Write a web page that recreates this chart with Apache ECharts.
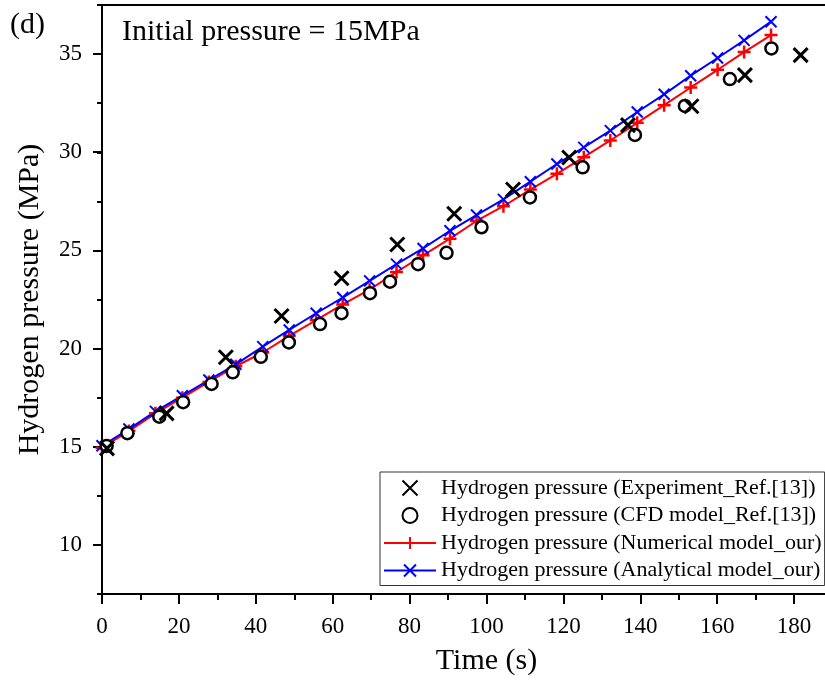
<!DOCTYPE html>
<html>
<head>
<meta charset="utf-8">
<script src="https://cdn.jsdelivr.net/npm/echarts@6/dist/echarts.min.js"></script>
<style>
  html, body { margin: 0; padding: 0; background: #fff; }
  #chart { width: 825px; height: 684px; }
</style>
</head>
<body>
<div id="chart"></div>
<script>
// measured data (time in s, pressure in MPa)
const expTime = [1.3, 16.8, 32.2, 46.7, 62.3, 76.8, 91.6, 106.9, 121.5, 136.8, 153.3, 167.2, 181.7]
const expPressure = [14.92, 16.7, 19.56, 21.66, 23.58, 25.3, 26.87, 28.1, 29.73, 31.38, 32.34, 33.93, 34.95]

const cfdTime = [1.2, 6.6, 14.9, 21.1, 28.5, 34.0, 41.3, 48.6, 56.7, 62.3, 69.7, 74.9, 82.2, 89.6, 98.7, 111.3, 125.0, 138.6, 151.6, 163.3, 174.1]
const cfdPressure = [15.04, 15.69, 16.53, 17.27, 18.2, 18.79, 19.58, 20.31, 21.25, 21.8, 22.82, 23.41, 24.3, 24.88, 26.18, 27.7, 29.23, 30.88, 32.36, 33.73, 35.29]

const modelTime = [0, 7, 13.9, 20.9, 27.8, 34.8, 41.8, 48.7, 55.7, 62.6, 69.6, 76.6, 83.5, 90.5, 97.4, 104.4, 111.4, 118.3, 125.3, 132.2, 139.2, 146.2, 153.1, 160.1, 167, 174]
const numericalPressure = [14.95, 15.8, 16.7, 17.5, 18.3, 19.1, 19.8, 20.65, 21.45, 22.25, 23.0, 23.9, 24.75, 25.6, 26.5, 27.25, 28.1, 28.9, 29.75, 30.6, 31.5, 32.4, 33.3, 34.2, 35.1, 35.97]
const analyticalPressure = [15.05, 15.9, 16.8, 17.6, 18.4, 19.2, 20.1, 20.95, 21.8, 22.6, 23.45, 24.3, 25.1, 26.0, 26.8, 27.6, 28.5, 29.4, 30.25, 31.1, 32.05, 32.95, 33.9, 34.8, 35.7, 36.65]

// y range of the frame, and the labelled part of it
const yMin = 7.5
const yMax = 37.5
const yLabelMin = 10
const yLabelMax = 35

const seriesNames = [
  'Hydrogen pressure (Experiment_Ref.[13])',
  'Hydrogen pressure (CFD model_Ref.[13])',
  'Hydrogen pressure (Numerical model_our)',
  'Hydrogen pressure (Analytical model_our)',
]

const zip = (xs, ys) => xs.map((x, i) => [x, ys[i]])

const FONT = '"Liberation Serif", "Times New Roman", serif'
const crossPath = 'path://M0,0L10,10M10,0L0,10'
const plusPath = 'path://M5,0L5,10M0,5L10,5'

const chart = echarts.init(document.getElementById('chart'))

// the frame runs past the right edge of the picture (x max = 200)
const gridLeft = 102
const gridTop = 5
const gridWidth = 769
const gridHeight = 589
const pxPerUnit = gridHeight / (yMax - yMin)

const option = {
  animation: false,
  backgroundColor: '#fff',
  grid: [
    {
      left: gridLeft,
      top: gridTop,
      width: gridWidth,
      height: gridHeight,
      containLabel: false,
      outerBoundsMode: 'none',
    },
    {
      // second grid only carries the labelled 10..35 ticks
      left: gridLeft,
      top: gridTop + (yMax - yLabelMax) * pxPerUnit,
      width: gridWidth,
      height: (yLabelMax - yLabelMin) * pxPerUnit,
      containLabel: false,
      outerBoundsMode: 'none',
    },
  ],
  xAxis: [
    {
      type: 'value',
      gridIndex: 0,
      min: 0,
      max: 200,
      interval: 20,
      name: 'Time (s)',
      nameLocation: 'middle',
      nameGap: 52,
      nameTextStyle: { fontFamily: FONT, fontSize: 30, color: '#000' },
      axisLine: { lineStyle: { color: '#000', width: 2 } },
      axisTick: { length: 10, lineStyle: { color: '#000', width: 2 } },
      minorTick: { show: true, splitNumber: 2, length: 6, lineStyle: { color: '#000', width: 2 } },
      axisLabel: { margin: 21, fontFamily: FONT, fontSize: 23, color: '#000' },
      splitLine: { show: false },
    },
    {
      type: 'value',
      gridIndex: 0,
      position: 'top',
      min: 0,
      max: 200,
      axisLine: { lineStyle: { color: '#000', width: 2 } },
      axisTick: { show: false },
      axisLabel: { show: false },
      splitLine: { show: false },
    },
    {
      type: 'value',
      gridIndex: 1,
      min: 0,
      max: 200,
      show: false,
    },
  ],
  yAxis: [
    {
      // frame axis with the short (minor) ticks
      type: 'value',
      gridIndex: 0,
      min: yMin,
      max: yMax,
      interval: 2.5,
      name: 'Hydrogen pressure (MPa)',
      nameLocation: 'middle',
      nameGap: 57,
      nameTextStyle: { fontFamily: FONT, fontSize: 30, color: '#000' },
      axisLine: { show: true, lineStyle: { color: '#000', width: 2 } },
      axisTick: { show: true, length: 5, lineStyle: { color: '#000', width: 2 } },
      axisLabel: { show: false },
      splitLine: { show: false },
    },
    {
      // labelled axis with the long ticks
      type: 'value',
      gridIndex: 1,
      min: yLabelMin,
      max: yLabelMax,
      interval: 5,
      axisLine: { show: false },
      axisTick: { show: true, length: 9, lineStyle: { color: '#000', width: 2 } },
      axisLabel: { margin: 20, fontFamily: FONT, fontSize: 23, color: '#000' },
      splitLine: { show: false },
    },
  ],
  legend: {
    orient: 'vertical',
    left: 380,
    top: 472,
    padding: [5, 3, 4, 3],
    itemWidth: 52,
    itemHeight: 15,
    itemGap: 5.5,
    borderColor: '#333',
    borderWidth: 1,
    textStyle: { fontFamily: FONT, fontSize: 22, lineHeight: 22, color: '#000' },
    data: seriesNames,
  },
  graphic: [
    {
      type: 'text',
      left: 10,
      top: 10,
      style: { text: '(d)', font: '30px ' + FONT, fill: '#000' },
    },
    {
      type: 'text',
      left: 122,
      top: 17,
      style: { text: 'Initial pressure = 15MPa', font: '30px ' + FONT, fill: '#000' },
    },
  ],
  series: [
    {
      name: seriesNames[2],
      type: 'line',
      xAxisIndex: 0,
      yAxisIndex: 0,
      data: zip(modelTime, numericalPressure),
      symbol: plusPath,
      symbolSize: 13,
      symbolKeepAspect: true,
      lineStyle: { color: '#ff0000', width: 2 },
      itemStyle: { color: '#ff0000', borderColor: '#ff0000', borderWidth: 2.5 },
      z: 2,
    },
    {
      name: seriesNames[3],
      type: 'line',
      xAxisIndex: 0,
      yAxisIndex: 0,
      data: zip(modelTime, analyticalPressure),
      symbol: crossPath,
      symbolSize: 11,
      symbolKeepAspect: true,
      lineStyle: { color: '#0000ff', width: 2 },
      itemStyle: { color: '#0000ff', borderColor: '#0000ff', borderWidth: 2 },
      z: 2,
    },
    {
      name: seriesNames[1],
      type: 'scatter',
      xAxisIndex: 0,
      yAxisIndex: 0,
      data: zip(cfdTime, cfdPressure),
      symbol: 'circle',
      symbolSize: 12,
      itemStyle: { color: '#fff', borderColor: '#000', borderWidth: 2.5, opacity: 1 },
      z: 3,
    },
    {
      name: seriesNames[0],
      type: 'scatter',
      xAxisIndex: 0,
      yAxisIndex: 0,
      data: zip(expTime, expPressure),
      symbol: crossPath,
      symbolSize: 14,
      symbolKeepAspect: true,
      itemStyle: { color: '#000', borderColor: '#000', borderWidth: 3, opacity: 1 },
      z: 4,
    },
  ],
}

chart.setOption(option)
</script>
</body>
</html>
